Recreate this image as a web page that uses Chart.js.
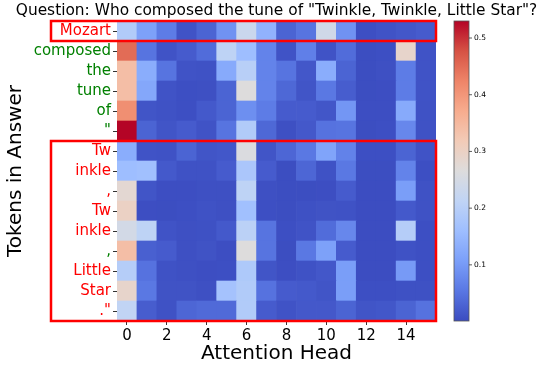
<!DOCTYPE html>
<html>
<head>
<meta charset="utf-8">
<script src="https://cdn.jsdelivr.net/npm/chart.js@4"></script>
<style>
  html, body { margin: 0; padding: 0; background: #fff; }
  #wrap { width: 544px; height: 370px; }
</style>
</head>
<body>
<div id="wrap"><canvas id="myChart" width="544" height="370"></canvas></div>
<script>
// data
const tokens = ['Mozart', 'composed', 'the', 'tune', 'of', '"', 'Tw', 'inkle', ',', 'Tw', 'inkle', ',', 'Little', 'Star', '."'];
const heads = [0, 1, 2, 3, 4, 5, 6, 7, 8, 9, 10, 11, 12, 13, 14, 15];
const headTicks = [0, 2, 4, 6, 8, 10, 12, 14];
const barTicks = [0.1, 0.2, 0.3, 0.4, 0.5];
const attn = [
    [0.19, 0.11, 0.06, 0.01, 0.03, 0.09, 0.23, 0.14, 0.03, 0.05, 0.24, 0.09, 0.005, 0.01, 0.015, 0.02],
    [0.45, 0.05, 0.01, 0.02, 0.04, 0.21, 0.16, 0.07, 0.01, 0.065, 0.01, 0.04, 0.003, 0.005, 0.29, 0.01],
    [0.34, 0.13, 0.05, 0.01, 0.008, 0.125, 0.20, 0.07, 0.05, 0.015, 0.13, 0.03, 0.003, 0.006, 0.06, 0.01],
    [0.34, 0.12, 0.01, 0.005, 0.006, 0.03, 0.265, 0.07, 0.035, 0.012, 0.055, 0.022, 0.003, 0.004, 0.06, 0.01],
    [0.41, 0.012, 0.008, 0.005, 0.017, 0.03, 0.085, 0.06, 0.02, 0.02, 0.013, 0.095, 0.004, 0.004, 0.125, 0.008],
    [0.53, 0.03, 0.012, 0.02, 0.01, 0.05, 0.19, 0.035, 0.006, 0.016, 0.048, 0.05, 0.003, 0.005, 0.075, 0.008],
    [0.13, 0.01, 0.008, 0.03, 0.012, 0.014, 0.26, 0.012, 0.033, 0.055, 0.115, 0.068, 0.005, 0.005, 0.03, 0.01],
    [0.16, 0.165, 0.017, 0.008, 0.008, 0.02, 0.18, 0.02, 0.003, 0.033, 0.008, 0.055, 0.003, 0.003, 0.07, 0.005],
    [0.28, 0.012, 0.004, 0.004, 0.006, 0.006, 0.21, 0.006, 0.003, 0.003, 0.004, 0.02, 0.002, 0.002, 0.105, 0.008],
    [0.30, 0.004, 0.003, 0.005, 0.008, 0.006, 0.165, 0.005, 0.003, 0.007, 0.009, 0.008, 0.002, 0.002, 0.017, 0.008],
    [0.245, 0.21, 0.01, 0.006, 0.007, 0.017, 0.205, 0.05, 0.005, 0.01, 0.04, 0.075, 0.002, 0.002, 0.195, 0.005],
    [0.34, 0.025, 0.02, 0.006, 0.009, 0.004, 0.265, 0.05, 0.003, 0.055, 0.11, 0.02, 0.002, 0.002, 0.008, 0.005],
    [0.195, 0.048, 0.008, 0.006, 0.004, 0.005, 0.185, 0.012, 0.004, 0.008, 0.015, 0.105, 0.002, 0.002, 0.10, 0.005],
    [0.29, 0.055, 0.009, 0.009, 0.006, 0.17, 0.19, 0.048, 0.02, 0.017, 0.012, 0.105, 0.005, 0.005, 0.007, 0.007],
    [0.215, 0.022, 0.008, 0.033, 0.038, 0.038, 0.19, 0.02, 0.01, 0.016, 0.016, 0.03, 0.012, 0.014, 0.03, 0.048]
];
const vmin = 0.001, vmax = 0.53;

// coolwarm, sampled every 0.1
const coolwarm = ['#3b4cc0', '#5977e3', '#7b9ff9', '#9ebeff', '#c0d4f5', '#dddcdc',
                  '#f2cbb7', '#f7ac8e', '#ee8468', '#d65244', '#b40426'];

function hexToRgb(h) {
    return [parseInt(h.slice(1, 3), 16), parseInt(h.slice(3, 5), 16), parseInt(h.slice(5, 7), 16)];
}

function colorFor(v) {
    let t = (v - vmin) / (vmax - vmin);
    t = Math.max(0, Math.min(1, t));
    const p = t * (coolwarm.length - 1);
    const i = Math.min(Math.floor(p), coolwarm.length - 2);
    const f = p - i;
    const a = hexToRgb(coolwarm[i]), b = hexToRgb(coolwarm[i + 1]);
    const c = a.map((x, k) => Math.round(x + (b[k] - x) * f));
    return `rgb(${c[0]}, ${c[1]}, ${c[2]})`;
}

// red = answer words, green = the rest
const greenRows = [1, 2, 3, 4, 5, 11];
const RED = '#ff0000', GREEN = '#008000';
const FONT = "'DejaVu Sans', sans-serif";

const cells = [];
const colors = [];
attn.forEach((row, r) => {
    row.forEach((v, c) => {
        cells.push({ x: heads[c], y: [r - 0.5, r + 0.5] });
        colors.push(colorFor(v));
    });
});

// title, red boxes and the colorbar
const extras = {
    id: 'extras',
    afterDraw(chart) {
        const ctx = chart.ctx;
        const xs = chart.scales.x, ys = chart.scales.y;
        ctx.save();

        ctx.fillStyle = '#000';
        ctx.font = `15.4px ${FONT}`;
        ctx.textAlign = 'center';
        ctx.textBaseline = 'middle';
        ctx.fillText('Question: Who composed the tune of "Twinkle, Twinkle, Little Star"?', 276.5, 11);

        ctx.strokeStyle = RED;
        ctx.lineWidth = 2.5;
        const left = xs.getPixelForValue(-0.5) - 66;
        const right = xs.getPixelForValue(15.5);
        const boxes = [[-0.5, 0.5], [5.5, 14.5]];
        boxes.forEach(b => {
            const top = ys.getPixelForValue(b[0]);
            const bot = ys.getPixelForValue(b[1]);
            ctx.strokeRect(left, top, right - left, bot - top);
        });

        // colorbar
        const cx = 454, cw = 15;
        const top = ys.getPixelForValue(-0.5), bot = ys.getPixelForValue(14.5);
        const grad = ctx.createLinearGradient(0, bot, 0, top);
        coolwarm.forEach((c, i) => grad.addColorStop(i / (coolwarm.length - 1), c));
        ctx.fillStyle = grad;
        ctx.fillRect(cx, top, cw, bot - top);
        ctx.strokeStyle = '#555';
        ctx.lineWidth = 0.8;
        ctx.strokeRect(cx, top, cw, bot - top);
        ctx.fillStyle = '#000';
        ctx.font = `7.5px ${FONT}`;
        ctx.textAlign = 'left';
        barTicks.forEach(t => {
            const y = bot - (t - vmin) / (vmax - vmin) * (bot - top);
            ctx.beginPath();
            ctx.moveTo(cx + cw, y);
            ctx.lineTo(cx + cw + 3, y);
            ctx.strokeStyle = '#333';
            ctx.stroke();
            ctx.fillText(t.toFixed(1), cx + cw + 5, y);
        });
        ctx.restore();
    }
};

const config = {
    type: 'bar',
    data: {
        datasets: [{
            data: cells,
            backgroundColor: colors,
            borderWidth: 0,
            barPercentage: 1,
            categoryPercentage: 1
        }]
    },
    options: {
        responsive: false,
        animation: false,
        layout: { padding: { top: 21, right: 108, left: 0, bottom: 0 } },
        plugins: {
            legend: { display: false },
            title: { display: false },
            tooltip: { enabled: false }
        },
        scales: {
            x: {
                type: 'linear',
                offset: false,
                min: -0.5,
                max: 15.5,
                afterBuildTicks: s => { s.ticks = headTicks.map(v => ({ value: v })); },
                afterFit: s => { s.height = 49; },
                grid: { offset: false, drawOnChartArea: false, drawTicks: true, tickLength: 4, color: '#333' },
                border: { display: false },
                ticks: { color: '#000', font: { family: FONT, size: 15 }, padding: 2, maxRotation: 0 },
                title: { display: true, text: 'Attention Head', color: '#000', font: { family: FONT, size: 20 }, padding: { top: 0 } }
            },
            y: {
                type: 'linear',
                reverse: true,
                min: -0.5,
                max: 14.5,
                afterBuildTicks: s => { s.ticks = tokens.map((_, i) => ({ value: i })); },
                afterFit: s => { s.width = 117; },
                grid: { drawOnChartArea: false, drawTicks: true, tickLength: 4, color: '#333' },
                border: { display: false },
                ticks: {
                    font: { family: FONT, size: 15 },
                    padding: 2,
                    autoSkip: false,
                    callback: v => tokens[v],
                    color: c => greenRows.includes(c.tick.value) ? GREEN : RED
                },
                title: { display: true, text: 'Tokens in Answer', color: '#000', font: { family: FONT, size: 20 }, padding: { bottom: 0 } }
            }
        }
    },
    plugins: [extras]
};

new Chart(document.getElementById('myChart').getContext('2d'), config);
</script>
</body>
</html>
